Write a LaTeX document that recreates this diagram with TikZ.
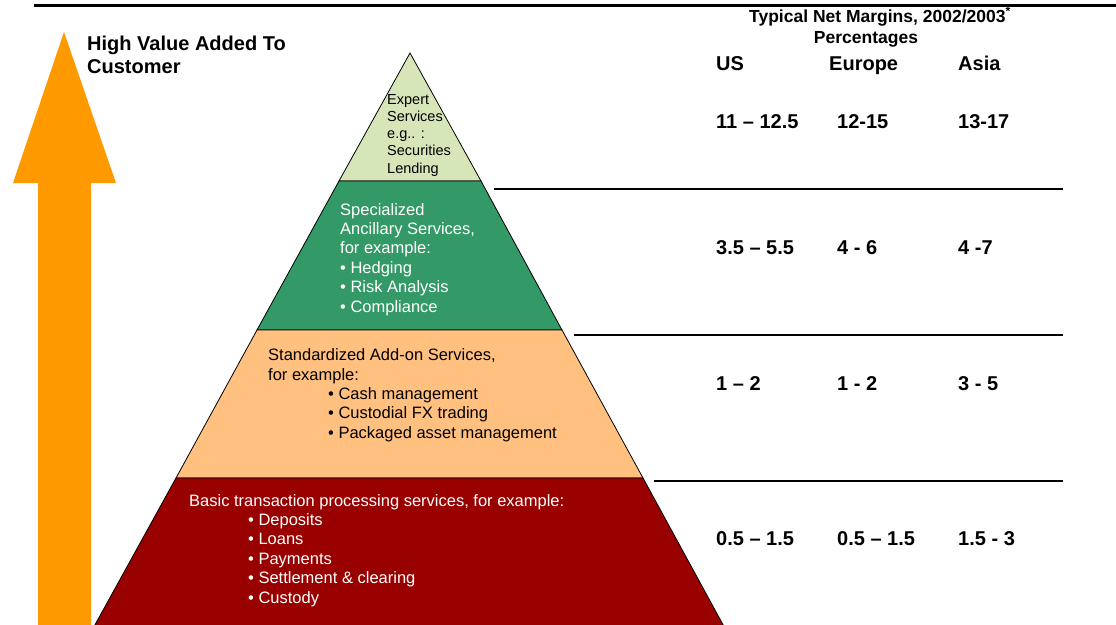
\documentclass[tikz,border=0pt]{standalone}
\usepackage{fontspec}
\setmainfont{Liberation Sans}

\definecolor{valueorange}{RGB}{255,153,0}
\definecolor{tiertop}{RGB}{215,230,185}
\definecolor{tiergreen}{RGB}{51,153,102}
\definecolor{tierpeach}{RGB}{255,192,128}
\definecolor{tierred}{RGB}{153,0,0}

\begin{document}
\begin{tikzpicture}[x=1pt,y=-1pt,
    tier/.style={draw=black,line width=0.8pt},
    txt/.style={inner sep=0pt,anchor=base west,align=left,font=\fontsize{16.5}{19.4}\selectfont},
    head/.style={inner sep=0pt,anchor=base west,align=left,font=\bfseries\fontsize{20}{23}\selectfont},
    rule/.style={line width=2pt}]
  \useasboundingbox (0,0) rectangle (1116,624);

  % arrow on the left
  \fill[valueorange] (64,32) -- (116,183) -- (91,183) -- (91,630)
      -- (38,630) -- (38,183) -- (13,183) -- cycle;
  % multi-line nodes sit on the baseline of their last line
  \node[head] (value) at (87,73) {High Value Added To\\Customer};

  % the four tiers of the pyramid
  \filldraw[tier,fill=tiertop] (410,53) -- (481,181) -- (339,181) -- cycle;
  \filldraw[tier,fill=tiergreen] (339,181) -- (481,181) -- (562,330) -- (257,330) -- cycle;
  \filldraw[tier,fill=tierpeach] (257,330) -- (562,330) -- (643,478) -- (176,478) -- cycle;
  \filldraw[tier,fill=tierred] (176,478) -- (643,478) -- (727,632) -- (91,632) -- cycle;

  \node[txt,font=\fontsize{14.5}{17.25}\selectfont] (expert) at (387,173)
      {Expert\\Services\\e.g.. :\\Securities\\Lending};
  \node[txt,white] (ancillary) at (340,312)
      {Specialized\\Ancillary Services,\\for example:\\\textbullet\ Hedging\\\textbullet\ Risk Analysis\\\textbullet\ Compliance};
  \node[txt] (addon) at (268,380) {Standardized Add-on Services,\\for example:};
  \node[txt] (addonlist) at (328,438)
      {\textbullet\ Cash management\\\textbullet\ Custodial FX trading\\\textbullet\ Packaged asset management};
  \node[txt,white] (basic) at (189,506) {Basic transaction processing services, for example:};
  \node[txt,white] (basiclist) at (248,603)
      {\textbullet\ Deposits\\\textbullet\ Loans\\\textbullet\ Payments\\\textbullet\ Settlement \& clearing\\\textbullet\ Custody};

  % rules
  \draw[line width=3pt] (34,5) -- (1116,5);
  \draw[rule] (494,189) -- (1063,189);
  \draw[rule] (574,335) -- (1063,335);
  \draw[rule] (654,481) -- (1063,481);

  % margins table
  \node[inner sep=0pt,anchor=base,font=\bfseries\fontsize{17.5}{19}\selectfont] (title) at (880,22)
      {Typical Net Margins, 2002/2003\textsuperscript{*}};
  \node[inner sep=0pt,anchor=base,font=\bfseries\fontsize{17.5}{19}\selectfont] (pct) at (866,43) {Percentages};
  \node[head] (us) at (716,70) {US};
  \node[head] (eu) at (829,70) {Europe};
  \node[head] (asia) at (958,70) {Asia};

  \node[head] (us1) at (716,128) {11 -- 12.5};
  \node[head] (eu1) at (837,128) {12-15};
  \node[head] (asia1) at (958,128) {13-17};
  \node[head] (us2) at (716,254) {3.5 -- 5.5};
  \node[head] (eu2) at (837,254) {4 - 6};
  \node[head] (asia2) at (958,254) {4 -7};
  \node[head] (us3) at (716,390) {1 -- 2};
  \node[head] (eu3) at (837,390) {1 - 2};
  \node[head] (asia3) at (958,390) {3 - 5};
  \node[head] (us4) at (716,545) {0.5 -- 1.5};
  \node[head] (eu4) at (837,545) {0.5 -- 1.5};
  \node[head] (asia4) at (958,545) {1.5 - 3};
\end{tikzpicture}
\end{document}
